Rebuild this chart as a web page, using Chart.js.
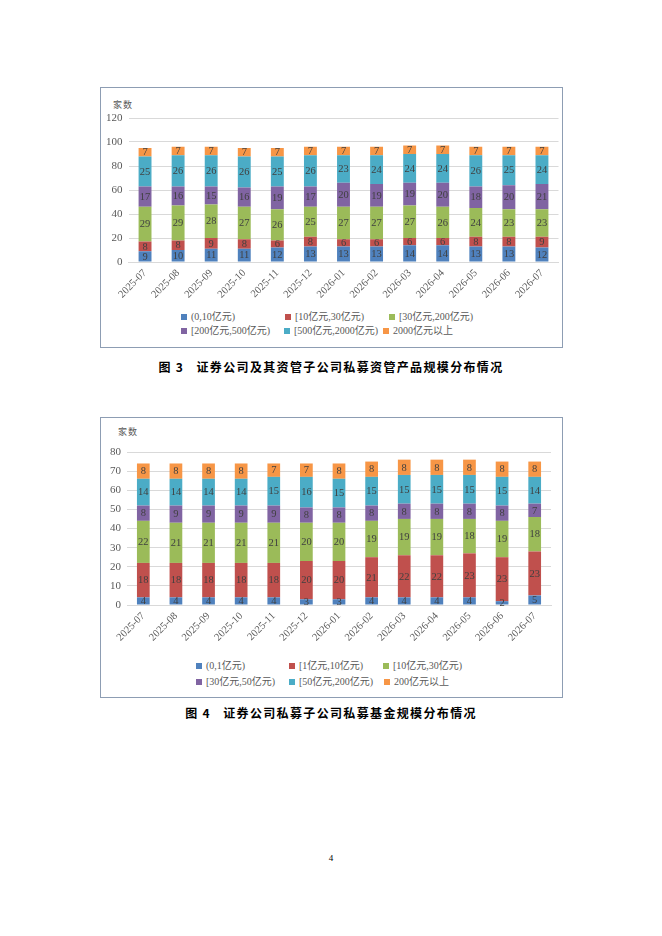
<!DOCTYPE html>
<html><head><meta charset="utf-8">
<script src="https://cdn.jsdelivr.net/npm/chart.js@4.4.1/dist/chart.umd.min.js"></script>
<style>
html,body{margin:0;padding:0;background:#fff;}
body{width:662px;height:936px;position:relative;overflow:hidden;font-family:"Liberation Serif","Noto Sans CJK SC",serif;}
.frame{position:absolute;border:1px solid #8D9DB3;box-sizing:border-box;}
.cw{position:absolute;}
.unit{position:absolute;font-family:"Noto Sans CJK SC",sans-serif;font-size:9px;color:#595959;letter-spacing:1px;line-height:10px;}
.lg{position:absolute;font-family:"Liberation Serif","Noto Sans CJK SC",serif;font-size:10px;color:#595959;line-height:10px;height:10px;white-space:nowrap;display:flex;align-items:center;}
.lg i{display:inline-block;width:6px;height:6px;margin-right:4px;}
.cap{position:absolute;left:0;width:662px;text-align:center;font-family:"Noto Sans CJK SC",sans-serif;font-weight:700;font-size:12px;letter-spacing:1.35px;white-space:pre;color:#000;line-height:16px;}
.pn{position:absolute;left:0;width:662px;text-align:center;font-size:9px;color:#000;line-height:10px;}
</style>
</head><body>

<div class="frame" style="left:100px;top:87px;width:463px;height:261px;"></div>
<div class="unit" style="left:113px;top:100px;">家数</div>
<div class="cw" style="left:100px;top:88px;width:462px;height:215px;"><canvas id="c1"></canvas></div>
<div id="lg1"></div>
<div class="cap" style="top:359px;">图 3   证券公司及其资管子公司私募资管产品规模分布情况</div>

<div class="frame" style="left:100px;top:417px;width:463px;height:281px;"></div>
<div class="unit" style="left:118px;top:427px;">家数</div>
<div class="cw" style="left:100px;top:418px;width:462px;height:228px;"><canvas id="c2"></canvas></div>
<div id="lg2"></div>
<div class="cap" style="top:705px;">图 4   证券公司私募子公司私募基金规模分布情况</div>

<div class="pn" style="top:853px;">4</div>

<script>
// ---- data ----
const months = ['2025-07','2025-08','2025-09','2025-10','2025-11','2025-12','2026-01','2026-02','2026-03','2026-04','2026-05','2026-06','2026-07'];

// Chart 1 (图3)
const names1 = ['(0,10亿元)','[10亿元,30亿元)','[30亿元,200亿元)','[200亿元,500亿元)','[500亿元,2000亿元)','2000亿元以上'];
const c1_a = [9,10,11,11,12,13,13,13,14,14,13,13,12];
const c1_b = [8,8,9,8,6,8,6,6,6,6,8,8,9];
const c1_c = [29,29,28,27,26,25,27,27,27,26,24,23,23];
const c1_d = [17,16,15,16,19,17,20,19,19,20,18,20,21];
const c1_e = [25,26,26,26,25,26,23,24,24,24,26,25,24];
const c1_f = [7,7,7,7,7,7,7,7,7,7,7,7,7];
const yMax1 = 120, yStep1 = 20;

// Chart 2 (图4)
const names2 = ['(0,1亿元)','[1亿元,10亿元)','[10亿元,30亿元)','[30亿元,50亿元)','[50亿元,200亿元)','200亿元以上'];
const c2_a = [4,4,4,4,4,3,3,4,4,4,4,2,5];
const c2_b = [18,18,18,18,18,20,20,21,22,22,23,23,23];
const c2_c = [22,21,21,21,21,20,20,19,19,19,18,19,18];
const c2_d = [8,9,9,9,9,8,8,8,8,8,8,8,7];
const c2_e = [14,14,14,14,15,16,15,15,15,15,15,15,14];
const c2_f = [8,8,8,8,7,7,8,8,8,8,8,8,8];
const yMax2 = 80, yStep2 = 10;

// ---- styles ----
const colors = ['#4F81BD','#C0504D','#9BBB59','#8064A2','#4BACC6','#F79646'];

const valueLabels = {
  id:'valueLabels',
  afterDatasetsDraw(chart){
    const ctx = chart.ctx;
    ctx.save();
    ctx.font = '10.5px "Liberation Serif"';
    ctx.fillStyle = '#404040';
    ctx.textAlign = 'center';
    ctx.textBaseline = 'middle';
    chart.data.datasets.forEach((ds,i)=>{
      const meta = chart.getDatasetMeta(i);
      meta.data.forEach((bar,j)=>{
        const p = bar.getProps(['x','y','base'], true);
        ctx.fillText(String(ds.data[j]), p.x, (p.y + p.base)/2 + 0.5);
      });
    });
    ctx.restore();
  }
};

function makeChart(id, names, series, yMax, yStep, axisW, padTop, padRight, xH){
  return new Chart(document.getElementById(id), {
    type:'bar',
    data:{
      labels: months,
      datasets: series.map((d,i)=>({label:names[i], data:d, backgroundColor:colors[i], borderWidth:0, barPercentage:0.39, categoryPercentage:1}))
    },
    options:{
      responsive:true, maintainAspectRatio:false, animation:false,
      layout:{padding:{top:padTop,right:padRight,left:0,bottom:0}},
      plugins:{legend:{display:false}, tooltip:{enabled:false}},
      scales:{
        x:{
          stacked:true,
          grid:{display:false, drawTicks:false},
          border:{display:true, color:'#D9D9D9'},
          ticks:{autoSkip:false, minRotation:45, maxRotation:45, font:{family:'Liberation Serif', size:10.5}, color:'#595959', padding:5},
          afterFit(s){ s.height = xH; }
        },
        y:{
          stacked:true, min:0, max:yMax,
          ticks:{stepSize:yStep, font:{family:'Liberation Serif', size:11}, color:'#595959', padding:6},
          grid:{color:'#D9D9D9', drawTicks:false},
          border:{display:false},
          afterFit(s){ s.width = axisW; }
        }
      }
    },
    plugins:[valueLabels]
  });
}

function makeLegend(elId, names, positions){
  const host = document.getElementById(elId);
  names.forEach((n,i)=>{
    const d = document.createElement('div');
    d.className = 'lg';
    d.style.left = positions[i][0] + 'px';
    d.style.top = (positions[i][1] - 5) + 'px';
    const b = document.createElement('i');
    b.style.background = colors[i];
    d.appendChild(b);
    d.appendChild(document.createTextNode(n));
    host.appendChild(d);
  });
}

makeChart('c1', names1, [c1_a,c1_b,c1_c,c1_d,c1_e,c1_f], yMax1, yStep1, 28.5, 30, 3.5, 41);
makeChart('c2', names2, [c2_a,c2_b,c2_c,c2_d,c2_e,c2_f], yMax2, yStep2, 27, 34, 11, 41);

makeLegend('lg1', names1, [[181,317],[285,317],[389,317],[181,331],[284,331],[383,331]]);
makeLegend('lg2', names2, [[196,666],[289,666],[383,666],[196,682],[289,682],[384,682]]);
</script>
</body></html>
